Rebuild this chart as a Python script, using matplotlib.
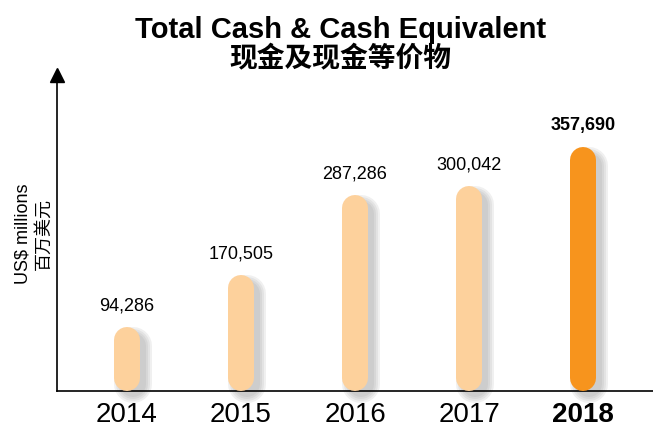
import matplotlib
matplotlib.use("Agg")
import matplotlib.pyplot as plt
import matplotlib.transforms as mtransforms

years = ["2014", "2015", "2016", "2017", "2018"]
cash = [94286, 170505, 287286, 300042, 357690]
value_labels = ["94,286", "170,505", "287,286", "300,042", "357,690"]
highlight = "2018"

title_en = "Total Cash & Cash Equivalent"
title_cn = "现金及现金等价物"
ylabel_en = "US$ millions"
ylabel_cn = "百万美元"

LIGHT = "#FDD19C"
ORANGE = "#F7941D"
EN_FONT = ["Liberation Sans", "DejaVu Sans"]
CN_FONT = ["Noto Sans CJK SC", "DejaVu Sans"]

W, H, DPI = 653, 432, 100
fig = plt.figure(figsize=(W / DPI, H / DPI), dpi=DPI)

# axes in pixel terms: left spine at x=57, baseline at y=391, top at y=75
top_px, base_px = 75, 391
ax = fig.add_axes([57 / W, (H - base_px) / H, (W - 57) / W, (base_px - top_px) / H])
ax.set_xlim(-0.614, len(years) - 1 + 0.614)
ax.set_ylim(0, (base_px - top_px) * 1465)
for s in ["top", "right"]:
    ax.spines[s].set_visible(False)
ax.spines["left"].set_linewidth(1.2)
ax.spines["bottom"].set_linewidth(1.2)
ax.set_yticks([])
ax.set_xticks(range(len(years)))
ax.set_xticklabels(years)
ax.tick_params(axis="x", length=0, pad=8)
for lab in ax.get_xticklabels():
    lab.set_fontfamily(EN_FONT)
    lab.set_fontsize(20)
    if lab.get_text() == highlight:
        lab.set_fontweight("bold")

# arrow head on the y axis
ax.plot([0], [1], marker="^", color="black", markersize=10,
        transform=ax.transAxes, clip_on=False)

# capsule bars: thick lines with round caps, endpoints pulled in by the radius
bar_px = 26
radius_px = bar_px / 2
fig.canvas.draw()
px_per_unit = ax.transData.transform((0, 1))[1] - ax.transData.transform((0, 0))[1]
r_data = radius_px / px_per_unit
lw_pt = bar_px * 72 / DPI

for i, (yr, v, lab) in enumerate(zip(years, cash, value_labels)):
    color = ORANGE if yr == highlight else LIGHT
    # soft shadow: stacked translucent lines offset right/down
    off = mtransforms.offset_copy(ax.transData, fig=fig, x=6, y=-6, units="dots")
    for extra in [12, 8, 4, 0]:
        ax.plot([i, i], [r_data, v - r_data], color="#8c8c8c", alpha=0.13,
                lw=(bar_px + extra) * 72 / DPI, solid_capstyle="round",
                transform=off, clip_on=False, zorder=2)
    ax.plot([i, i], [r_data, v - r_data], color=color, lw=lw_pt,
            solid_capstyle="round", clip_on=False, zorder=3)
    ax.annotate(lab, (i, v), xytext=(0, 9), textcoords="offset points",
                ha="center", va="bottom", fontsize=13, family=EN_FONT,
                fontweight="bold" if yr == highlight else "normal")

fig.text(0.521, 1 - 38 / H, title_en, ha="center", va="baseline",
         fontsize=21, fontweight="bold", family=EN_FONT)
fig.text(0.521, 1 - 58 / H, title_cn, ha="center", va="center",
         fontsize=20, fontweight="bold", family=CN_FONT)

fig.text(23 / W, 1 - 234 / H, ylabel_en, rotation=90, ha="center", va="center",
         fontsize=13, family=EN_FONT)
fig.text(44 / W, 1 - 234 / H, ylabel_cn, rotation=90, ha="center", va="center",
         fontsize=13, family=CN_FONT)

fig.savefig("out.png", dpi=DPI)
